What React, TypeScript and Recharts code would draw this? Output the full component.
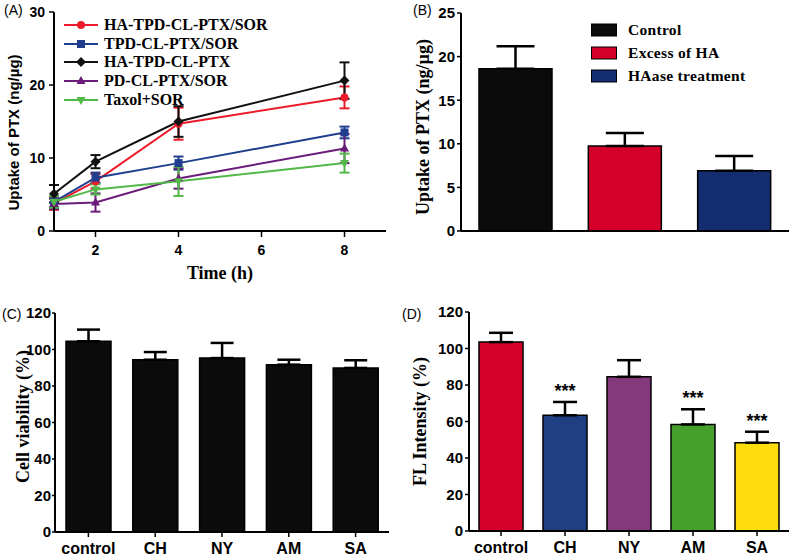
import React from 'react';
import { LineChart, Line, BarChart, Bar, XAxis, YAxis, ErrorBar, Legend, Cell, LabelList } from 'recharts';

const SERIF = '"Liberation Serif", "Times New Roman", serif';
const SANS = '"Liberation Sans", Arial, sans-serif';

// (A) PTX uptake over time
const timePoints = [1, 2, 4, 8];
const timeTicks = [2, 4, 6, 8];
const uptakeTicksA = [0, 10, 20, 30];
const lineNames = ['HA-TPD-CL-PTX/SOR', 'TPD-CL-PTX/SOR', 'HA-TPD-CL-PTX', 'PD-CL-PTX/SOR', 'Taxol+SOR'];
const lineColors = ['#ec1c2c', '#1f3e8e', '#111111', '#6b1c7a', '#52b848'];
const lineShapes = ['circle', 'square', 'diamond', 'triangle', 'triangleDown'];
const haTpdClPtxSor = [3.8, 6.8, 14.7, 18.3];
const haTpdClPtxSorErr = [0.9, 1.0, 2.2, 1.5];
const tpdClPtxSor = [4.0, 7.3, 9.3, 13.5];
const tpdClPtxSorErr = [0.7, 0.7, 0.9, 0.8];
const haTpdClPtx = [5.1, 9.5, 15.0, 20.6];
const haTpdClPtxErr = [1.2, 0.9, 2.1, 2.5];
const pdClPtxSor = [3.7, 3.9, 7.2, 11.3];
const pdClPtxSorErr = [0.7, 1.25, 1.4, 2.0];
const taxolSor = [4.0, 5.7, 6.8, 9.3];
const taxolSorErr = [0.8, 0.7, 2.0, 1.3];

// (B) competition assay
const groupsB = ['Control', 'Excess of HA', 'HAase treatment'];
const colorsB = ['#0b0b0b', '#d5002a', '#142c70'];
const uptakeB = [18.6, 9.75, 6.9];
const uptakeBErr = [2.6, 1.5, 1.7];
const uptakeTicksB = [0, 5, 10, 15, 20, 25];

// (C) cell viability
const groupsCD = ['control', 'CH', 'NY', 'AM', 'SA'];
const viability = [104.5, 94.4, 95.3, 91.7, 89.9];
const viabilityErr = [6.4, 4.2, 8.3, 2.7, 4.2];
const percentTicks = [0, 20, 40, 60, 80, 100, 120];

// (D) FL intensity
const colorsD = ['#d5002a', '#203f82', '#85397d', '#47a02b', '#fedd0f'];
const flIntensity = [103.5, 63.4, 84.5, 58.4, 48.4];
const flIntensityErr = [5.1, 7.3, 9.1, 8.3, 6.0];
const flSignificance = ['', '***', '', '***', '***'];

const lineValues = [haTpdClPtxSor, tpdClPtxSor, haTpdClPtx, pdClPtxSor, taxolSor];
const lineErrors = [haTpdClPtxSorErr, tpdClPtxSorErr, haTpdClPtxErr, pdClPtxSorErr, taxolSorErr];
const lineData = timePoints.map((t, i) => {
  const row: Record<string, number> = { time: t };
  lineValues.forEach((vals, s) => {
    row[`v${s}`] = vals[i];
    row[`e${s}`] = lineErrors[s][i];
  });
  return row;
});
const dataB = groupsB.map((g, i) => ({ group: g, uptake: uptakeB[i], err: [0, uptakeBErr[i]] }));
const dataC = groupsCD.map((g, i) => ({ group: g, value: viability[i], err: [0, viabilityErr[i]] }));
const dataD = groupsCD.map((g, i) => ({
  group: g,
  value: flIntensity[i],
  err: [0, flIntensityErr[i]],
  gap: flIntensityErr[i],
  sig: flSignificance[i],
}));

const axisLine = { stroke: '#000', strokeWidth: 2 };
const tickLine = { stroke: '#000', strokeWidth: 1.5 };
const tickFont = (size: number) => ({ fill: '#000', fontSize: size, fontWeight: 'bold', fontFamily: SANS });

function Marker({ shape, cx, cy, color, size = 4 }: { shape: string; cx: number; cy: number; color: string; size?: number }) {
  if (cx == null || cy == null) return null;
  switch (shape) {
    case 'circle':
      return <circle cx={cx} cy={cy} r={size} fill={color} />;
    case 'square':
      return <rect x={cx - size} y={cy - size} width={size * 2} height={size * 2} fill={color} />;
    case 'diamond':
      return <polygon points={`${cx},${cy - size - 1} ${cx + size + 1},${cy} ${cx},${cy + size + 1} ${cx - size - 1},${cy}`} fill={color} />;
    case 'triangle':
      return <polygon points={`${cx},${cy - size - 1} ${cx + size + 0.5},${cy + size - 1} ${cx - size - 0.5},${cy + size - 1}`} fill={color} />;
    default:
      return <polygon points={`${cx},${cy + size + 1} ${cx + size + 0.5},${cy - size + 1} ${cx - size - 0.5},${cy - size + 1}`} fill={color} />;
  }
}

function yTitle(text: string, offsetX: number, shiftY: number, family: string, size: number) {
  return (props: any) => {
    const vb = props.viewBox || {};
    const x = (vb.x || 0) + offsetX;
    const y = (vb.y || 0) + (vb.height || 0) / 2 + shiftY;
    return (
      <text x={x} y={y} transform={`rotate(-90, ${x}, ${y})`} textAnchor="middle" dominantBaseline="central"
        fontFamily={family} fontWeight="bold" fontSize={size} fill="#000">
        {text}
      </text>
    );
  };
}

const timeTitle = (props: any) => {
  const vb = props.viewBox || {};
  const x = (vb.x || 0) + (vb.width || 0) / 2;
  const y = (vb.y || 0) + (vb.height || 0) - 1;
  return (
    <text x={x} y={y} textAnchor="middle" fontFamily={SERIF} fontWeight="bold" fontSize={18} fill="#000">
      Time (h)
    </text>
  );
};

const LegendA = () => (
  <div style={{ fontFamily: SERIF, fontWeight: 'bold', fontSize: 16, color: '#000' }}>
    {lineNames.map((n, i) => (
      <div key={n} style={{ display: 'flex', alignItems: 'center', height: 18.6 }}>
        <svg width={34} height={12}>
          <line x1={0} y1={6} x2={34} y2={6} stroke={lineColors[i]} strokeWidth={2} />
          <Marker shape={lineShapes[i]} cx={17} cy={6} color={lineColors[i]} />
        </svg>
        <span style={{ marginLeft: 6, whiteSpace: 'nowrap' }}>{n}</span>
      </div>
    ))}
  </div>
);

const LegendB = () => (
  <div style={{ fontFamily: SERIF, fontWeight: 'bold', fontSize: 15.5, color: '#000', letterSpacing: 0.3 }}>
    {groupsB.map((g, i) => (
      <div key={g} style={{ display: 'flex', alignItems: 'center', height: 23 }}>
        <svg width={26} height={14}>
          <rect x={0.5} y={1} width={25} height={12} fill={colorsB[i]} stroke="#000" strokeWidth={1} />
        </svg>
        <span style={{ marginLeft: 11, whiteSpace: 'nowrap' }}>{g}</span>
      </div>
    ))}
  </div>
);

const panelLabel = (text: string, left: number, top: number) => (
  <span style={{ position: 'absolute', left, top, fontFamily: SANS, fontSize: 14, lineHeight: '16px', color: '#000' }}>
    {text}
  </span>
);

export default function App() {
  return (
    <div style={{ position: 'absolute', left: 0, top: 0, width: 800, height: 558, background: '#fff', overflow: 'hidden' }}>
      <div style={{ position: 'absolute', left: 0, top: 0 }}>
        <LineChart width={400} height={290} data={lineData} margin={{ top: 12, right: 14, bottom: 10, left: 0 }}>
          <XAxis dataKey="time" type="number" domain={[1, 9]} ticks={timeTicks} height={49} tickSize={6} tickMargin={8}
            tick={tickFont(14)} axisLine={axisLine} tickLine={tickLine} label={timeTitle} />
          <XAxis xAxisId="top" dataKey="time" type="number" domain={[1, 9]} orientation="top" height={0}
            tick={false} tickLine={false} axisLine={axisLine} />
          <YAxis domain={[0, 30]} ticks={uptakeTicksA} width={54} tickSize={5} tickMargin={4} tick={tickFont(14)}
            axisLine={axisLine} tickLine={tickLine} label={yTitle('Uptake of PTX (ng/µg)', 13, 11, SANS, 15)} />
          <YAxis yAxisId="right" orientation="right" domain={[0, 30]} width={0} tick={false} tickLine={false} axisLine={axisLine} />
          <Legend layout="vertical" align="center" verticalAlign="middle" content={LegendA}
            wrapperStyle={{ left: 64, top: 16, width: 'auto' }} />
          {lineNames.map((n, s) => (
            <Line key={n} name={n} dataKey={`v${s}`} stroke={lineColors[s]} strokeWidth={2} isAnimationActive={false}
              dot={(p: any) => <Marker key={`${n}-${p.index}`} shape={lineShapes[s]} cx={p.cx} cy={p.cy} color={lineColors[s]} />}
              activeDot={false}>
              <ErrorBar dataKey={`e${s}`} width={5} stroke={lineColors[s]} strokeWidth={2} direction="y" />
            </Line>
          ))}
        </LineChart>
      </div>

      <div style={{ position: 'absolute', left: 400, top: 0 }}>
        <BarChart width={400} height={280} data={dataB} margin={{ top: 13, right: 11, bottom: 0, left: 0 }}>
          <XAxis dataKey="group" height={49} tick={false} tickLine={false} axisLine={axisLine} />
          <XAxis xAxisId="top" dataKey="group" orientation="top" height={0} tick={false} tickLine={false} axisLine={axisLine} />
          <YAxis domain={[0, 25]} ticks={uptakeTicksB} width={61} tickSize={4} tickMargin={2} tick={tickFont(15)}
            axisLine={axisLine} tickLine={tickLine} label={yTitle('Uptake of PTX (ng/µg)', 23, 5, SERIF, 18)} />
          <YAxis yAxisId="right" orientation="right" domain={[0, 25]} width={0} tick={false} tickLine={false} axisLine={axisLine} />
          <Legend layout="vertical" align="center" verticalAlign="middle" content={LegendB}
            wrapperStyle={{ left: 191, top: 18, width: 'auto' }} />
          <Bar dataKey="uptake" barSize={73} stroke="#000" strokeWidth={1.5} isAnimationActive={false}>
            {dataB.map((d, i) => (
              <Cell key={d.group} fill={colorsB[i]} />
            ))}
            <ErrorBar dataKey="err" width={19} stroke="#000" strokeWidth={2.5} direction="y" />
          </Bar>
        </BarChart>
      </div>

      <div style={{ position: 'absolute', left: 0, top: 280 }}>
        <BarChart width={400} height={278} data={dataC} margin={{ top: 33, right: 11, bottom: 0, left: 0 }}>
          <XAxis dataKey="group" height={26} tickSize={5} tickMargin={6} tick={tickFont(16)} axisLine={axisLine} tickLine={tickLine} />
          <XAxis xAxisId="top" dataKey="group" orientation="top" height={0} tick={false} tickLine={false} axisLine={axisLine} />
          <YAxis domain={[0, 120]} ticks={percentTicks} width={55} tickSize={3} tickMargin={1} tick={tickFont(15)}
            axisLine={axisLine} tickLine={tickLine} label={yTitle('Cell viability (%)', 23, -6, SERIF, 18)} />
          <YAxis yAxisId="right" orientation="right" domain={[0, 120]} width={0} tick={false} tickLine={false} axisLine={axisLine} />
          <Bar dataKey="value" barSize={45} fill="#0b0b0b" stroke="#000" strokeWidth={1.5} isAnimationActive={false}>
            <ErrorBar dataKey="err" width={11.5} stroke="#000" strokeWidth={2.5} direction="y" />
          </Bar>
        </BarChart>
      </div>

      <div style={{ position: 'absolute', left: 400, top: 280 }}>
        <BarChart width={400} height={278} data={dataD} margin={{ top: 32, right: 11, bottom: 0, left: 0 }}>
          <XAxis dataKey="group" height={27} tickSize={5} tickMargin={6} tick={tickFont(16)} axisLine={axisLine} tickLine={tickLine} />
          <XAxis xAxisId="top" dataKey="group" orientation="top" height={0} tick={false} tickLine={false} axisLine={axisLine} />
          <YAxis domain={[0, 120]} ticks={percentTicks} width={69} tickSize={4} tickMargin={2} tick={tickFont(15)}
            axisLine={axisLine} tickLine={tickLine} label={yTitle('FL Intensity (%)', 20, 0, SERIF, 18)} />
          <YAxis yAxisId="right" orientation="right" domain={[0, 120]} width={0} tick={false} tickLine={false} axisLine={axisLine} />
          <Bar dataKey="value" stackId="fl" barSize={44} stroke="#000" strokeWidth={1.5} isAnimationActive={false}>
            {dataD.map((d, i) => (
              <Cell key={d.group} fill={colorsD[i]} />
            ))}
            <ErrorBar dataKey="err" width={12} stroke="#000" strokeWidth={2.5} direction="y" />
          </Bar>
          <Bar dataKey="gap" stackId="fl" barSize={44} fill="none" stroke="none" isAnimationActive={false}>
            <LabelList dataKey="sig" position="top" offset={5} fill="#000" fontSize={18} fontWeight="bold" fontFamily={SANS} />
          </Bar>
        </BarChart>
      </div>

      {panelLabel('(A)', 4, 2)}
      {panelLabel('(B)', 413, 2)}
      {panelLabel('(C)', 2, 306)}
      {panelLabel('(D)', 402, 306)}
    </div>
  );
}
